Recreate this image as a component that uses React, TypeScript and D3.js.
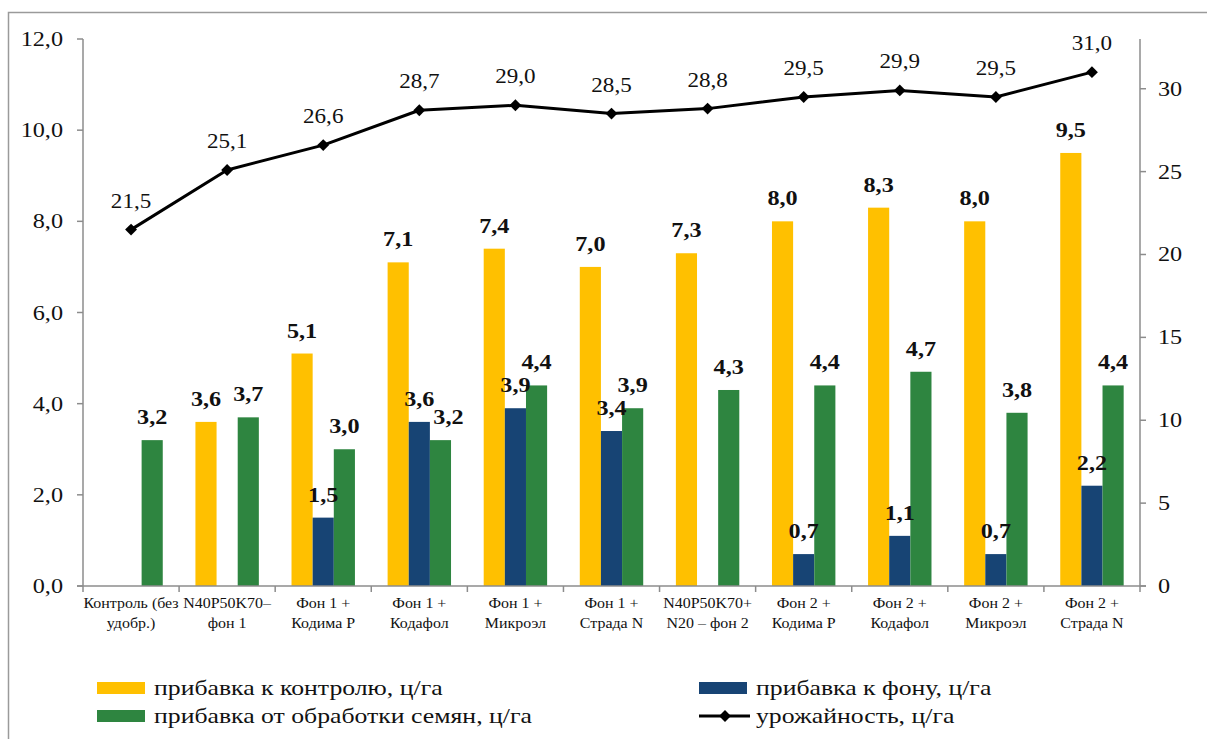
import * as d3 from 'd3';

const categories = [
  'Контроль (без\nудобр.)',
  'N40P50K70–\nфон 1',
  'Фон 1 +\nКодима Р',
  'Фон 1 +\nКодафол',
  'Фон 1 +\nМикроэл',
  'Фон 1 +\nСтрада N',
  'N40P50K70+\nN20 – фон 2',
  'Фон 2 +\nКодима Р',
  'Фон 2 +\nКодафол',
  'Фон 2 +\nМикроэл',
  'Фон 2 +\nСтрада N',
];

const addControl = [null, 3.6, 5.1, 7.1, 7.4, 7.0, 7.3, 8.0, 8.3, 8.0, 9.5];
const addBackground = [null, null, 1.5, 3.6, 3.9, 3.4, null, 0.7, 1.1, 0.7, 2.2];
const addSeeds = [3.2, 3.7, 3.0, 3.2, 4.4, 3.9, 4.3, 4.4, 4.7, 3.8, 4.4];
const yieldVals = [21.5, 25.1, 26.6, 28.7, 29.0, 28.5, 28.8, 29.5, 29.9, 29.5, 31.0];

const leftTicks = [0, 2, 4, 6, 8, 10, 12];
const rightTicks = [0, 5, 10, 15, 20, 25, 30];

const series = [
  { name: 'прибавка к контролю, ц/га', values: addControl, color: '#FFC000' },
  { name: 'прибавка к фону, ц/га', values: addBackground, color: '#174474' },
  { name: 'прибавка от обработки семян, ц/га', values: addSeeds, color: '#2E8540' },
];
const lineName = 'урожайность, ц/га';

const FONT = 'Liberation Serif';
const SX = 1.1; // text in the picture is a bit stretched sideways

const comma = (v: number, digits = 1) => v.toFixed(digits).replace('.', ',');

function Txt({ x, y, size, bold, anchor = 'middle', sx = SX, children }: any) {
  return (
    <text
      transform={`translate(${x},${y}) scale(${sx},1)`}
      fontFamily={FONT}
      fontSize={size}
      fontWeight={bold ? 'bold' : 'normal'}
      textAnchor={anchor}
      fill="#111"
    >
      {children}
    </text>
  );
}

const diamond = d3.symbol().type(d3.symbolDiamond2).size(90)();

export default function App() {
  const width = 1207;
  const height = 739;
  const left = 83;
  const right = 1140;
  const bottom = 586;
  const top = 39;

  const x = d3.scaleBand<number>().domain(d3.range(categories.length)).range([left, right]);
  const groupW = x.bandwidth() * 0.66;
  const inner = d3.scaleBand<number>().domain([0, 1, 2]).range([0, groupW]);
  const groupOff = (x.bandwidth() - groupW) / 2;
  const cx = (i: number) => x(i)! + x.bandwidth() / 2;

  const yL = d3.scaleLinear().domain([0, 12]).range([bottom, top]);
  const yR = d3.scaleLinear().domain([0, 33]).range([bottom, top]);

  const line = d3.line<number>()
    .x((_, i) => cx(i))
    .y(d => yR(d));

  const axisColor = '#8c8c8c';

  // labels of neighbouring bars that would collide get nudged sideways
  const labelShift = (si: number, i: number) => {
    if (si === 2 && addBackground[i] != null && Math.abs(addBackground[i]! - addSeeds[i]) < 0.5) return 8;
    return 0;
  };

  return (
    <svg width={width} height={height} style={{ position: 'absolute', left: 0, top: 0, background: '#fff', display: 'block' }}>
      <path d="M8.5,760 V12.5 H1260" fill="none" stroke="#9a9a9a" strokeWidth={1.5} />

      {/* bars */}
      {series.map((s, si) => (
        <g key={s.name}>
          {s.values.map((v, i) => v == null ? null : (
            <rect
              key={i}
              x={x(i)! + groupOff + inner(si)!}
              y={yL(v)}
              width={inner.bandwidth()}
              height={bottom - yL(v)}
              fill={s.color}
            />
          ))}
        </g>
      ))}

      {/* left axis */}
      <line x1={left} x2={left} y1={top} y2={bottom} stroke={axisColor} strokeWidth={1.5} />
      {leftTicks.map(t => (
        <g key={t}>
          <line x1={left - 6} x2={left} y1={yL(t)} y2={yL(t)} stroke={axisColor} strokeWidth={1.5} />
          <Txt x={left - 20} y={yL(t) + 7} size={22} anchor="end">{comma(t)}</Txt>
        </g>
      ))}

      {/* right axis */}
      <line x1={right} x2={right} y1={top} y2={bottom} stroke={axisColor} strokeWidth={1.5} />
      {rightTicks.map(t => (
        <g key={t}>
          <line x1={right} x2={right + 6} y1={yR(t)} y2={yR(t)} stroke={axisColor} strokeWidth={1.5} />
          <Txt x={right + 18} y={yR(t) + 7} size={22} anchor="start">{t}</Txt>
        </g>
      ))}

      {/* x axis */}
      <line x1={left - 6} x2={right + 6} y1={bottom} y2={bottom} stroke={axisColor} strokeWidth={1.5} />
      {d3.range(categories.length + 1).map(i => {
        const xx = i < categories.length ? x(i)! : right;
        return <line key={i} x1={xx} x2={xx} y1={bottom} y2={bottom + 6} stroke={axisColor} strokeWidth={1.5} />;
      })}
      {categories.map((c, i) => (
        <g key={c}>
          {c.split('\n').map((ln, li) => (
            <Txt key={li} x={cx(i)} y={bottom + 22 + li * 20} size={14.5}>{ln}</Txt>
          ))}
        </g>
      ))}

      {/* bar labels */}
      {series.map((s, si) => (
        <g key={s.name + 'lbl'}>
          {s.values.map((v, i) => v == null ? null : (
            <Txt key={i} x={x(i)! + groupOff + inner(si)! + inner.bandwidth() / 2 + labelShift(si, i)} y={yL(v) - 16} size={22} bold>
              {comma(v)}
            </Txt>
          ))}
        </g>
      ))}

      {/* yield line */}
      <path d={line(yieldVals)!} fill="none" stroke="#000" strokeWidth={3} strokeLinejoin="round" />
      {yieldVals.map((v, i) => (
        <g key={i}>
          <path d={diamond!} transform={`translate(${cx(i)},${yR(v)})`} fill="#000" />
          <Txt x={cx(i)} y={yR(v) - 22} size={21}>{comma(v)}</Txt>
        </g>
      ))}

      {/* legend */}
      {[
        { ...series[0], lx: 97, ly: 688 },
        { ...series[1], lx: 699, ly: 688 },
        { ...series[2], lx: 97, ly: 716 },
      ].map(s => (
        <g key={s.name + 'leg'}>
          <rect x={s.lx} y={s.ly - 6} width={48} height={12} fill={s.color} />
          <Txt x={s.lx + 57} y={s.ly + 7} size={22} sx={1.17} anchor="start">{s.name}</Txt>
        </g>
      ))}
      <g>
        <line x1={699} x2={750} y1={716} y2={716} stroke="#000" strokeWidth={3} />
        <path d={diamond!} transform="translate(725,716)" fill="#000" />
        <Txt x={756} y={723} size={22} sx={1.17} anchor="start">{lineName}</Txt>
      </g>
    </svg>
  );
}
